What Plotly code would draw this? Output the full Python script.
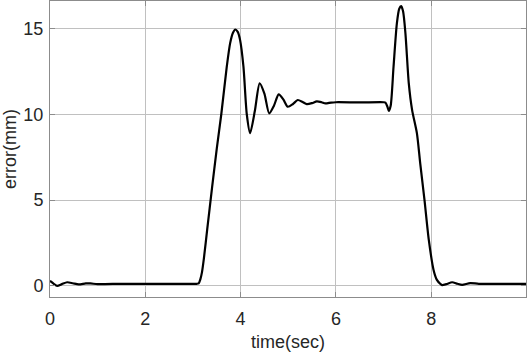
import plotly.graph_objects as go

time_sec = [0.0, 0.08, 0.15, 0.25, 0.36, 0.48, 0.6, 0.75, 0.85, 1.0, 1.5, 2.0, 2.5, 3.0, 3.08,
            3.12, 3.155, 3.19, 3.23, 3.3, 3.4, 3.5, 3.595, 3.71, 3.78, 3.84, 3.89, 3.94, 3.99, 4.06, 4.13,
            4.2, 4.3, 4.4, 4.5, 4.6, 4.7, 4.8, 4.9, 4.99, 5.1, 5.2, 5.3, 5.39, 5.5, 5.6, 5.7,
            5.78, 5.9, 6.0, 6.5, 7.0, 7.04, 7.08, 7.11, 7.15, 7.21, 7.28, 7.33, 7.37, 7.41,
            7.46, 7.53, 7.6, 7.7, 7.77, 7.86, 7.95, 8.05, 8.12, 8.19, 8.23, 8.32, 8.44, 8.55,
            8.65, 8.82, 9.0, 9.5, 10.0]
error_mm = [0.29, 0.12, 0.0, 0.1, 0.21, 0.15, 0.08, 0.14, 0.14, 0.1, 0.12, 0.12, 0.12, 0.12, 0.12,
            0.14, 0.38, 0.8, 1.6, 3.3, 5.7, 8.0, 10.0, 12.77, 14.13, 14.75, 14.94, 14.8, 14.32, 12.77, 10.0,
            8.9, 10.2, 11.8, 11.2, 10.05, 10.5, 11.16, 10.85, 10.44, 10.6, 10.83, 10.72, 10.59, 10.65,
            10.75, 10.7, 10.63, 10.68, 10.7, 10.69, 10.7, 10.68, 10.45, 10.2, 10.5, 12.77, 15.3, 16.15,
            16.3, 16.0, 14.7, 11.8, 10.24, 8.9, 7.14, 5.0, 2.68, 0.93, 0.35, 0.12, 0.04, 0.1, 0.21,
            0.12, 0.06, 0.16, 0.12, 0.12, 0.12]

x_ticks = [0, 2, 4, 6, 8]
y_ticks = [0, 5, 10, 15]

fig = go.Figure()
fig.add_trace(go.Scatter(
    x=time_sec, y=error_mm, mode="lines",
    line=dict(color="black", width=2.2, shape="spline", smoothing=0.7),
    showlegend=False, hoverinfo="skip",
))

font_family = "Liberation Sans, Arial, sans-serif"
axis_common = dict(
    showline=True, linecolor="#8c8c8c", linewidth=1, mirror="ticks",
    ticks="inside", ticklen=5, tickcolor="#8c8c8c",
    showgrid=True, gridcolor="#c0c0c0", gridwidth=1, zeroline=False,
    tickfont=dict(family=font_family, size=18, color="#262626"),
    title_font=dict(family=font_family, size=18, color="#262626"),
)

fig.update_xaxes(range=[0, 9.99], tickvals=x_ticks, title_text="time(sec)",
                 ticklabelstandoff=5, title_standoff=7, **axis_common)
fig.update_yaxes(range=[-0.65, 16.6], tickvals=y_ticks, title_text="error(mm)",
                 ticklabelstandoff=2, title_standoff=5, **axis_common)

fig.update_layout(
    width=528, height=356,
    margin=dict(l=50, r=2, t=1, b=59),
    paper_bgcolor="white", plot_bgcolor="white",
)

fig.write_html("out.html")
